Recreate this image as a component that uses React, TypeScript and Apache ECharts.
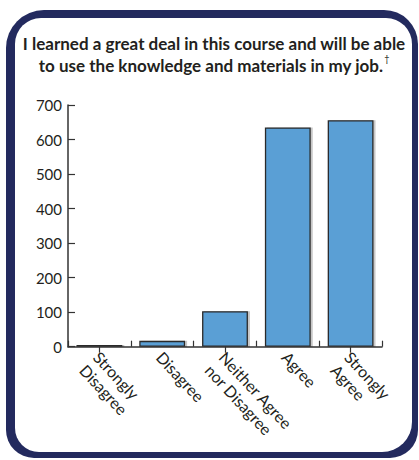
import React, { useEffect, useRef } from "react";
import * as echarts from "echarts";

const categories = ["Strongly\nDisagree", "Disagree", "Neither Agree\nnor Disagree", "Agree", "Strongly\nAgree"];
const counts = [5, 17, 103, 635, 656];
const yTicks = [0, 100, 200, 300, 400, 500, 600, 700];
const titleLine1 = "I learned a great deal in this course and will be able";
const titleLine2 = "to use the knowledge and materials in my job.";

export default function App() {
  const ref = useRef<HTMLDivElement>(null);
  useEffect(() => {
    const chart = echarts.init(ref.current!, null, { renderer: "svg" });
    const navy = "#232a5e";
    const ink = "#231f20";
    chart.setOption({
      animation: false,
      backgroundColor: "#ffffff",
      graphic: [
        {
          type: "rect",
          z: -10,
          silent: true,
          shape: { x: 6, y: 10, width: 412, height: 448, r: [38, 34, 28, 28] },
          style: { fill: navy },
        },
        {
          type: "rect",
          z: -9,
          silent: true,
          shape: { x: 15, y: 18, width: 397, height: 434, r: [26, 26, 30, 24] },
          style: { fill: "#ffffff" },
        },
        {
          type: "text",
          x: 214,
          y: 32,
          style: {
            text: titleLine1 + "\n" + titleLine2 + "{d|†}",
            align: "center",
            verticalAlign: "top",
            fontFamily: "Lato",
            fontWeight: "bold",
            fontSize: 17,
            lineHeight: 22,
            fill: ink,
            rich: {
              d: { fontSize: 9, fontFamily: "Lato", verticalAlign: "top", lineHeight: 14, fill: ink, padding: [0, 0, 8, 1] },
            },
          },
        },
      ],
      grid: { left: 68, right: 37, top: 105, bottom: 113.3, containLabel: false },
      xAxis: [
        {
          type: "category",
          data: categories,
          axisLine: { lineStyle: { color: "#333", width: 1.5 } },
          axisTick: { show: true, inside: true, length: 6, alignWithLabel: false, lineStyle: { color: "#333", width: 1.2 } },
          axisLabel: {
            interval: 0,
            rotate: -47,
            margin: 5,
            color: ink,
            fontFamily: "Lato",
            fontSize: 16,
            lineHeight: 19,
            align: "left",
            verticalAlign: "top",
            padding: [-6, 0, 0, 0],
          },
        },
        {
          type: "category",
          data: categories,
          position: "bottom",
          axisLine: { show: false },
          axisTick: { show: true, inside: false, length: 6, alignWithLabel: true, lineStyle: { color: "#333", width: 1.2 } },
          axisLabel: { show: false },
        },
      ],
      yAxis: {
        type: "value",
        min: 0,
        max: 700,
        interval: 100,
        splitLine: { show: false },
        axisLine: { show: true, lineStyle: { color: "#333", width: 1.5 } },
        axisTick: { show: true, inside: true, length: 7, lineStyle: { color: "#333", width: 1.2 } },
        axisLabel: {
          color: ink,
          fontFamily: "Lato",
          fontSize: 15,
          margin: 6,
          formatter: (v: number) => (yTicks.includes(v) ? String(v) : ""),
        },
      },
      series: [
        {
          type: "bar",
          data: counts,
          barCategoryGap: "27%",
          z: 3,
          itemStyle: {
            color: "#5a9fd5",
            borderColor: "#2b2b2b",
            borderWidth: 1.3,
            shadowColor: "rgba(0,0,0,0.22)",
            shadowOffsetX: 2,
            shadowOffsetY: 0,
            shadowBlur: 1,
          },
        },
      ],
    });
    return () => chart.dispose();
  }, []);
  return (
    <div
      ref={ref}
      style={{ position: "fixed", left: 0, top: 0, width: 419, height: 460 }}
    />
  );
}
